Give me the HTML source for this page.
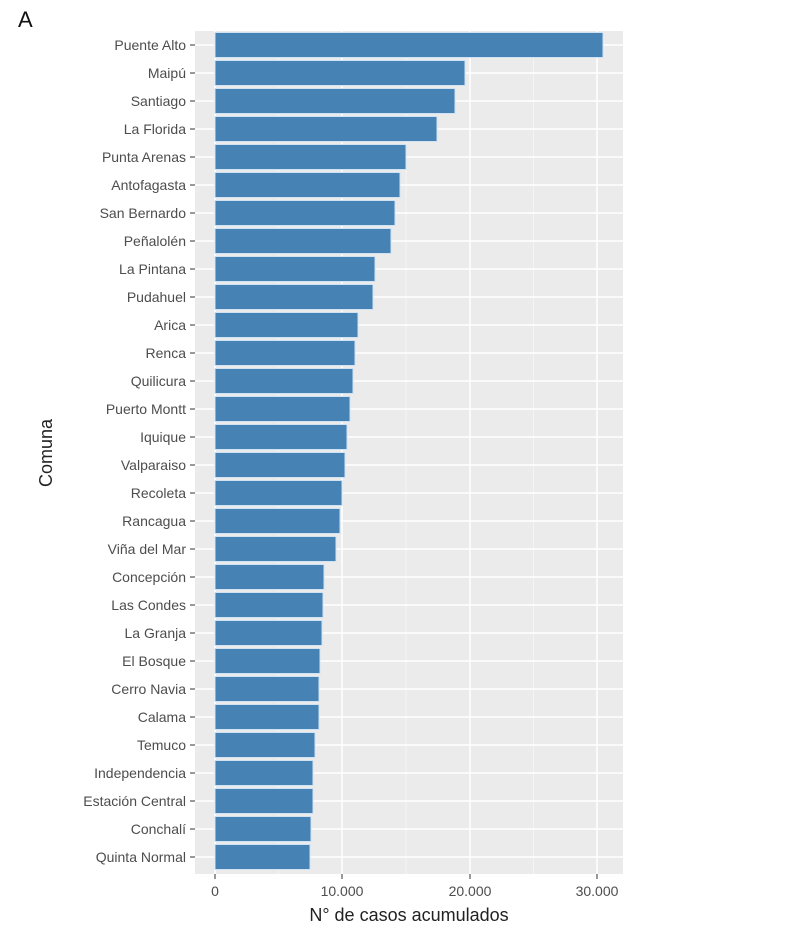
<!DOCTYPE html>
<html><head><meta charset="utf-8"><style>
html,body{margin:0;padding:0;background:#fff;}
svg{display:block;font-family:"Liberation Sans",sans-serif;}
.l{font-size:14px;fill:#4d4d4d;text-anchor:end;}
.t{font-size:14px;fill:#4d4d4d;text-anchor:middle;}
</style></head><body>
<svg width="800" height="939" viewBox="0 0 800 939" xmlns="http://www.w3.org/2000/svg">
<text x="18" y="27" font-size="22" fill="#111">A</text>
<rect x="195" y="31" width="428" height="843" fill="#ebebeb"/>
<g stroke="#f7f7f7" stroke-width="0.8">
<line x1="278.5" y1="31" x2="278.5" y2="874"/><line x1="406" y1="31" x2="406" y2="874"/><line x1="533.5" y1="31" x2="533.5" y2="874"/>
</g>
<g stroke="#fff" stroke-width="1.5">
<line x1="215" y1="31" x2="215" y2="874"/><line x1="342" y1="31" x2="342" y2="874"/><line x1="470" y1="31" x2="470" y2="874"/><line x1="597" y1="31" x2="597" y2="874"/>
<line x1="195" y1="45" x2="623" y2="45"/><line x1="195" y1="73" x2="623" y2="73"/><line x1="195" y1="101" x2="623" y2="101"/><line x1="195" y1="129" x2="623" y2="129"/><line x1="195" y1="157" x2="623" y2="157"/><line x1="195" y1="185" x2="623" y2="185"/><line x1="195" y1="213" x2="623" y2="213"/><line x1="195" y1="241" x2="623" y2="241"/><line x1="195" y1="269" x2="623" y2="269"/><line x1="195" y1="297" x2="623" y2="297"/><line x1="195" y1="325" x2="623" y2="325"/><line x1="195" y1="353" x2="623" y2="353"/><line x1="195" y1="381" x2="623" y2="381"/><line x1="195" y1="409" x2="623" y2="409"/><line x1="195" y1="437" x2="623" y2="437"/><line x1="195" y1="465" x2="623" y2="465"/><line x1="195" y1="493" x2="623" y2="493"/><line x1="195" y1="521" x2="623" y2="521"/><line x1="195" y1="549" x2="623" y2="549"/><line x1="195" y1="577" x2="623" y2="577"/><line x1="195" y1="605" x2="623" y2="605"/><line x1="195" y1="633" x2="623" y2="633"/><line x1="195" y1="661" x2="623" y2="661"/><line x1="195" y1="689" x2="623" y2="689"/><line x1="195" y1="717" x2="623" y2="717"/><line x1="195" y1="745" x2="623" y2="745"/><line x1="195" y1="773" x2="623" y2="773"/><line x1="195" y1="801" x2="623" y2="801"/><line x1="195" y1="829" x2="623" y2="829"/><line x1="195" y1="857" x2="623" y2="857"/>
</g>
<g fill="#4682b4" stroke="#cfe3f5" stroke-width="1">
<rect x="215" y="32.5" width="388" height="25"/>
<rect x="215" y="60.5" width="250" height="25"/>
<rect x="215" y="88.5" width="240" height="25"/>
<rect x="215" y="116.5" width="222" height="25"/>
<rect x="215" y="144.5" width="191" height="25"/>
<rect x="215" y="172.5" width="185" height="25"/>
<rect x="215" y="200.5" width="180" height="25"/>
<rect x="215" y="228.5" width="176" height="25"/>
<rect x="215" y="256.5" width="160" height="25"/>
<rect x="215" y="284.5" width="158" height="25"/>
<rect x="215" y="312.5" width="143" height="25"/>
<rect x="215" y="340.5" width="140" height="25"/>
<rect x="215" y="368.5" width="138" height="25"/>
<rect x="215" y="396.5" width="135" height="25"/>
<rect x="215" y="424.5" width="132" height="25"/>
<rect x="215" y="452.5" width="130" height="25"/>
<rect x="215" y="480.5" width="127" height="25"/>
<rect x="215" y="508.5" width="125" height="25"/>
<rect x="215" y="536.5" width="121" height="25"/>
<rect x="215" y="564.5" width="109" height="25"/>
<rect x="215" y="592.5" width="108" height="25"/>
<rect x="215" y="620.5" width="107" height="25"/>
<rect x="215" y="648.5" width="105" height="25"/>
<rect x="215" y="676.5" width="104" height="25"/>
<rect x="215" y="704.5" width="104" height="25"/>
<rect x="215" y="732.5" width="100" height="25"/>
<rect x="215" y="760.5" width="98" height="25"/>
<rect x="215" y="788.5" width="98" height="25"/>
<rect x="215" y="816.5" width="96" height="25"/>
<rect x="215" y="844.5" width="95" height="25"/>
</g>
<g stroke="#333" stroke-width="1">
<line x1="190" y1="45" x2="195" y2="45"/><line x1="190" y1="73" x2="195" y2="73"/><line x1="190" y1="101" x2="195" y2="101"/><line x1="190" y1="129" x2="195" y2="129"/><line x1="190" y1="157" x2="195" y2="157"/><line x1="190" y1="185" x2="195" y2="185"/><line x1="190" y1="213" x2="195" y2="213"/><line x1="190" y1="241" x2="195" y2="241"/><line x1="190" y1="269" x2="195" y2="269"/><line x1="190" y1="297" x2="195" y2="297"/><line x1="190" y1="325" x2="195" y2="325"/><line x1="190" y1="353" x2="195" y2="353"/><line x1="190" y1="381" x2="195" y2="381"/><line x1="190" y1="409" x2="195" y2="409"/><line x1="190" y1="437" x2="195" y2="437"/><line x1="190" y1="465" x2="195" y2="465"/><line x1="190" y1="493" x2="195" y2="493"/><line x1="190" y1="521" x2="195" y2="521"/><line x1="190" y1="549" x2="195" y2="549"/><line x1="190" y1="577" x2="195" y2="577"/><line x1="190" y1="605" x2="195" y2="605"/><line x1="190" y1="633" x2="195" y2="633"/><line x1="190" y1="661" x2="195" y2="661"/><line x1="190" y1="689" x2="195" y2="689"/><line x1="190" y1="717" x2="195" y2="717"/><line x1="190" y1="745" x2="195" y2="745"/><line x1="190" y1="773" x2="195" y2="773"/><line x1="190" y1="801" x2="195" y2="801"/><line x1="190" y1="829" x2="195" y2="829"/><line x1="190" y1="857" x2="195" y2="857"/>
<line x1="215" y1="874" x2="215" y2="879"/><line x1="342" y1="874" x2="342" y2="879"/><line x1="470" y1="874" x2="470" y2="879"/><line x1="597" y1="874" x2="597" y2="879"/>
</g>
<g class="l">
<text x="186" y="50">Puente Alto</text><text x="186" y="78">Maipú</text><text x="186" y="106">Santiago</text><text x="186" y="134">La Florida</text><text x="186" y="162">Punta Arenas</text><text x="186" y="190">Antofagasta</text><text x="186" y="218">San Bernardo</text><text x="186" y="246">Peñalolén</text><text x="186" y="274">La Pintana</text><text x="186" y="302">Pudahuel</text><text x="186" y="330">Arica</text><text x="186" y="358">Renca</text><text x="186" y="386">Quilicura</text><text x="186" y="414">Puerto Montt</text><text x="186" y="442">Iquique</text><text x="186" y="470">Valparaiso</text><text x="186" y="498">Recoleta</text><text x="186" y="526">Rancagua</text><text x="186" y="554">Viña del Mar</text><text x="186" y="582">Concepción</text><text x="186" y="610">Las Condes</text><text x="186" y="638">La Granja</text><text x="186" y="666">El Bosque</text><text x="186" y="694">Cerro Navia</text><text x="186" y="722">Calama</text><text x="186" y="750">Temuco</text><text x="186" y="778">Independencia</text><text x="186" y="806">Estación Central</text><text x="186" y="834">Conchalí</text><text x="186" y="862">Quinta Normal</text>
</g>
<g class="t">
<text x="215" y="896">0</text><text x="342" y="896">10.000</text><text x="470" y="896">20.000</text><text x="597" y="896">30.000</text>
</g>
<text x="409" y="921" font-size="18" fill="#222" text-anchor="middle">N° de casos acumulados</text>
<text transform="translate(52,453) rotate(-90)" font-size="18" fill="#222" text-anchor="middle">Comuna</text>
</svg>
</body></html>
